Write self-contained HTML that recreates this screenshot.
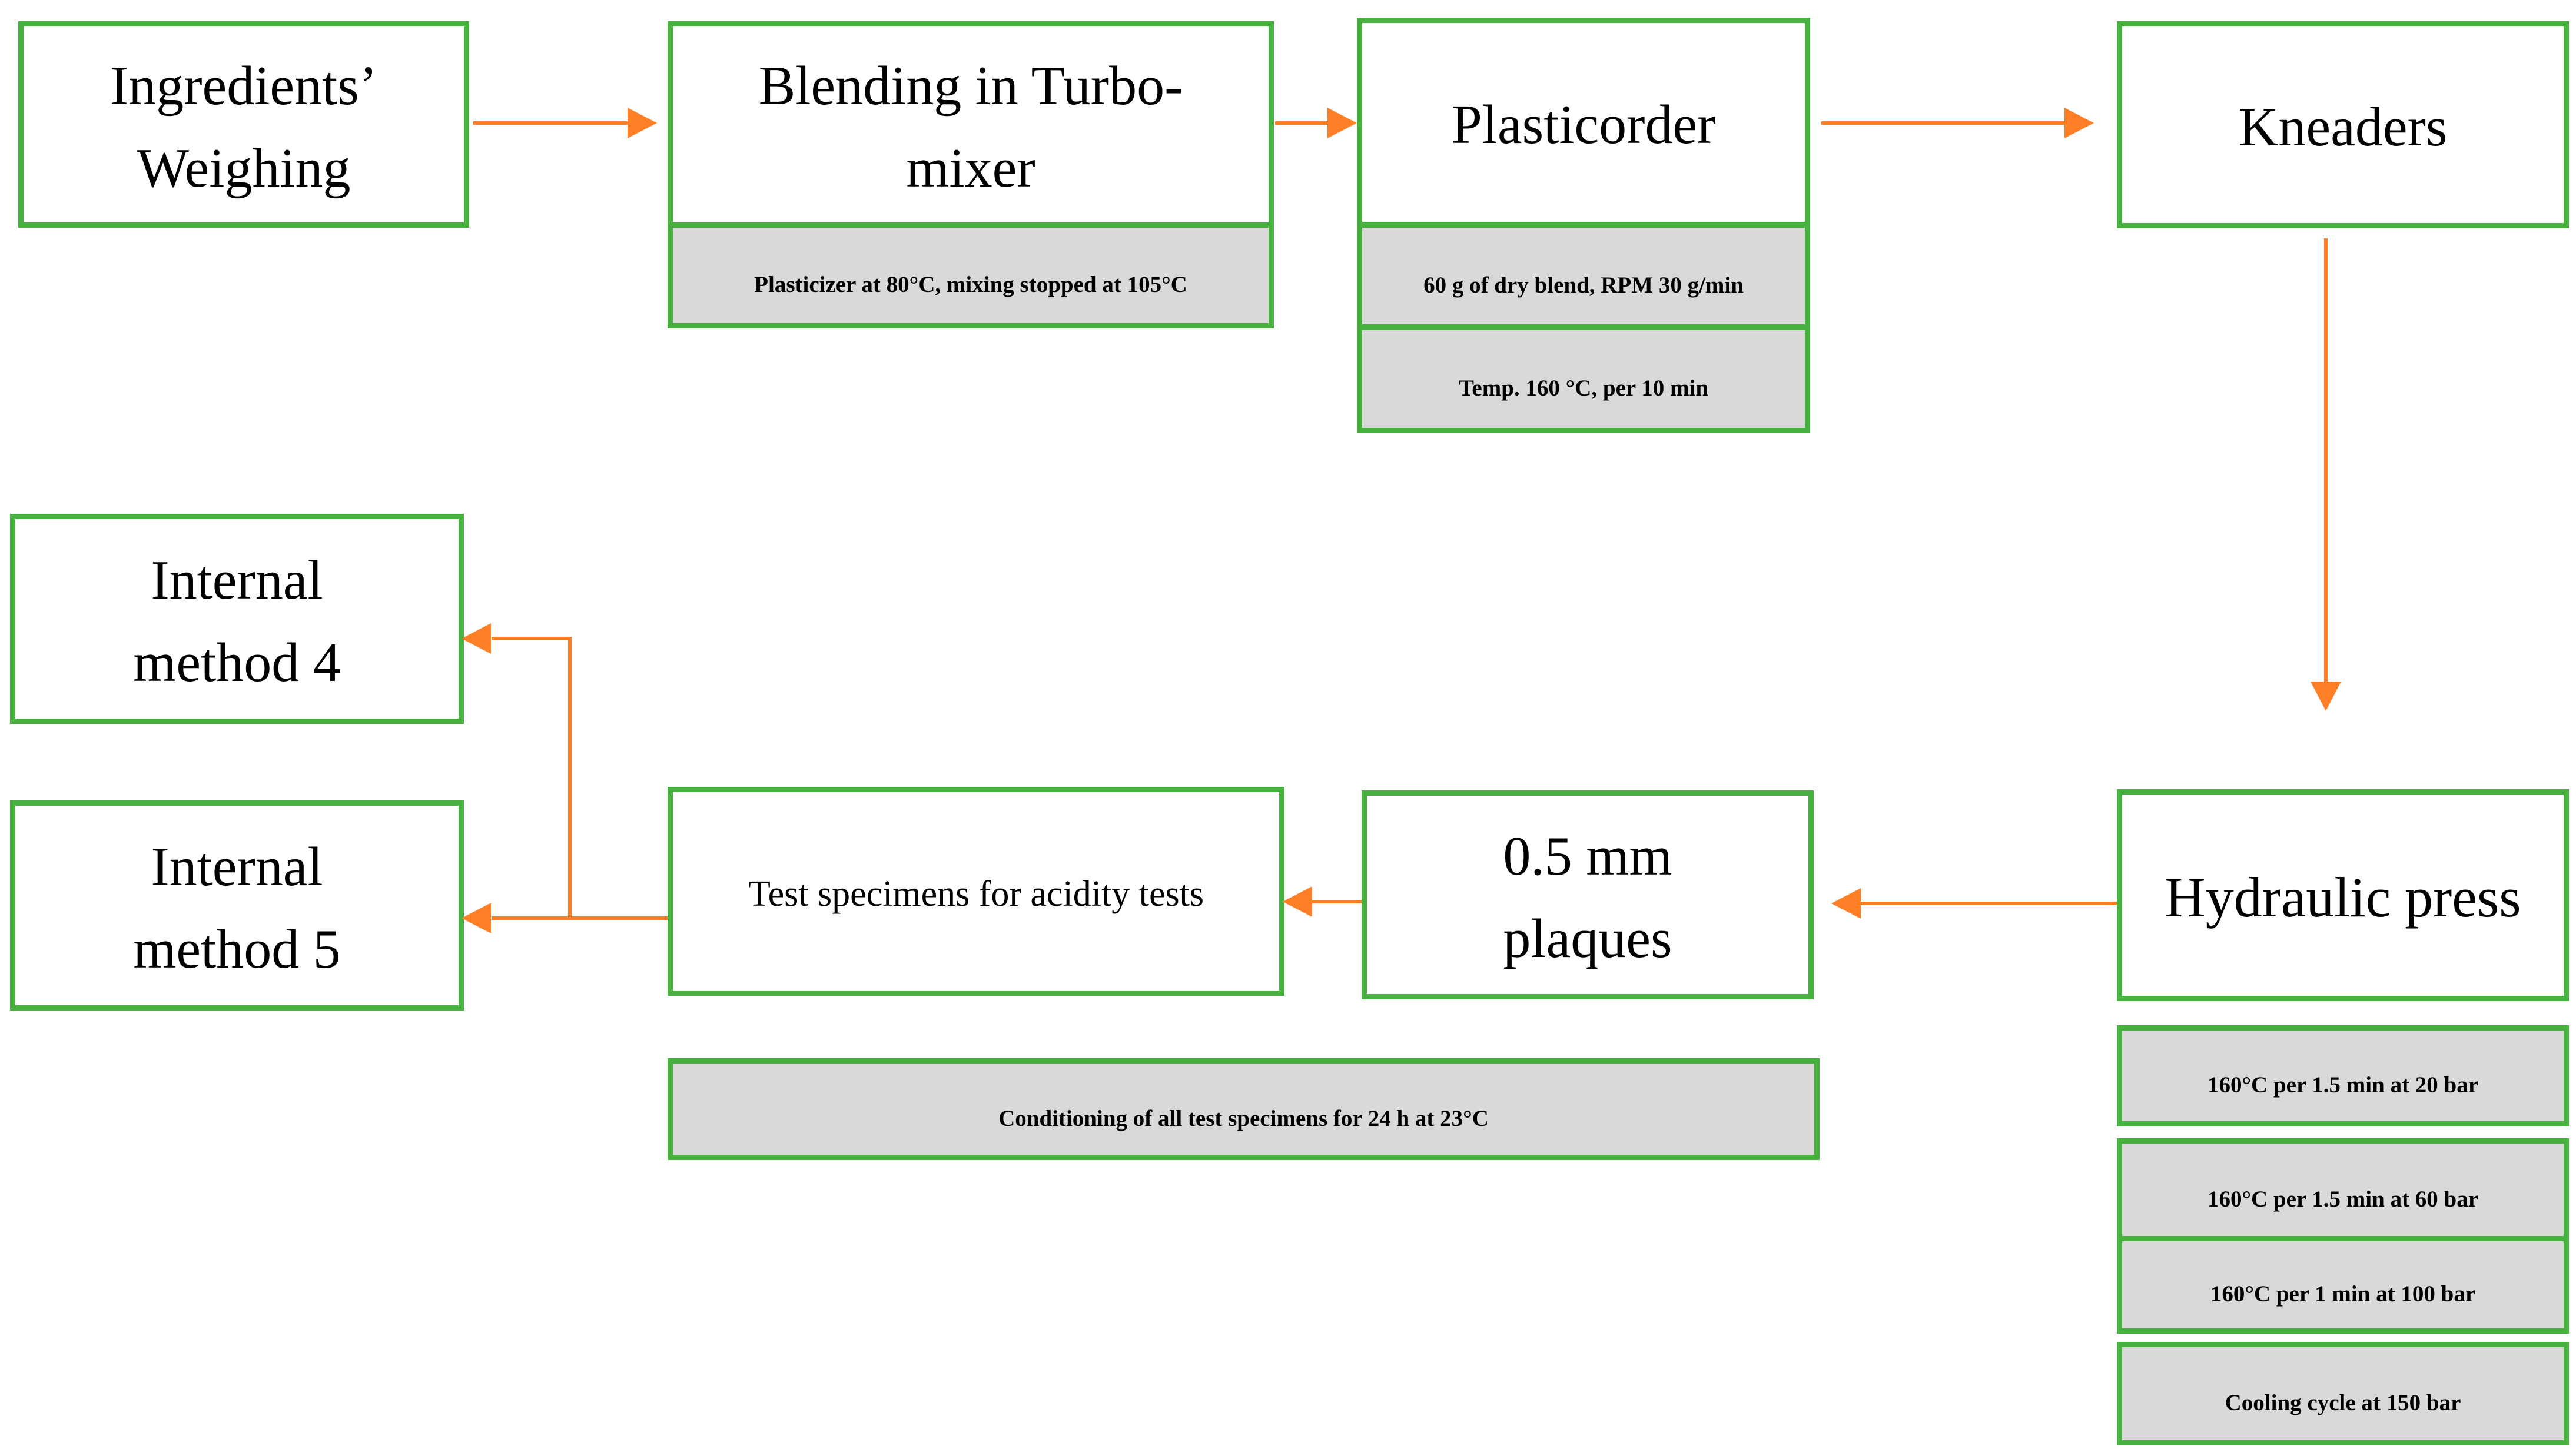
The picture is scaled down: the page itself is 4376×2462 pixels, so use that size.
<!DOCTYPE html>
<html><head><meta charset="utf-8"><style>
body{margin:0;width:4376px;height:2462px;background:#fff;position:relative;overflow:hidden;font-family:"Liberation Serif","Times New Roman",serif;}
.b{position:absolute;box-sizing:border-box;border:9px solid #47B03E;background:#fff;display:flex;align-items:center;justify-content:center;text-align:center;color:#000;font-size:94px;line-height:140px;padding-top:8px;}
.g{background:#D9D9D9;font-size:39px;font-weight:bold;line-height:50px;padding-top:32px;}
svg{position:absolute;left:0;top:0;}
</style></head><body>
<div class="b" style="left:31px;top:36px;width:766px;height:351px;">Ingredients’<br>Weighing</div>
<div class="b" style="left:1134px;top:36px;width:1030px;height:352px;">Blending in Turbo-<br>mixer</div>
<div class="b g" style="left:1134px;top:378px;width:1030px;height:180px;">Plasticizer at 80°C, mixing stopped at 105°C</div>
<div class="b" style="left:2305px;top:30px;width:770px;height:356px;">Plasticorder</div>
<div class="b g" style="left:2305px;top:378px;width:770px;height:182px;">60 g of dry blend, RPM 30 g/min</div>
<div class="b g" style="left:2305px;top:552px;width:770px;height:184px;">Temp. 160 °C, per 10 min</div>
<div class="b" style="left:3596px;top:36px;width:768px;height:352px;">Kneaders</div>
<div class="b" style="left:3596px;top:1341px;width:768px;height:360px;font-size:96px;">Hydraulic press</div>
<div class="b g" style="left:3596px;top:1742px;width:768px;height:172px;">160°C per 1.5 min at 20 bar</div>
<div class="b g" style="left:3596px;top:1934px;width:768px;height:176px;">160°C per 1.5 min at 60 bar</div>
<div class="b g" style="left:3596px;top:2100px;width:768px;height:166px;">160°C per 1 min at 100 bar</div>
<div class="b g" style="left:3596px;top:2280px;width:768px;height:176px;">Cooling cycle at 150 bar</div>
<div class="b" style="left:17px;top:873px;width:771px;height:357px;">Internal<br>method 4</div>
<div class="b" style="left:17px;top:1360px;width:771px;height:357px;">Internal<br>method 5</div>
<div class="b" style="left:1134px;top:1337px;width:1048px;height:355px;font-size:62px;">Test specimens for acidity tests</div>
<div class="b" style="left:2313px;top:1343px;width:768px;height:355px;">0.5 mm<br>plaques</div>
<div class="b g" style="left:1134px;top:1798px;width:1957px;height:173px;">Conditioning of all test specimens for 24 h at 23°C</div>
<svg width="4376" height="2462" viewBox="0 0 4376 2462">
<g stroke="#FF7F27" stroke-width="6" fill="none">
<line x1="804" y1="209" x2="1070" y2="209"/>
<line x1="2166" y1="209" x2="2258" y2="209"/>
<line x1="3094" y1="209" x2="3510" y2="209"/>
<line x1="3951" y1="405" x2="3951" y2="1160"/>
<line x1="3596" y1="1535" x2="3160" y2="1535"/>
<line x1="2313" y1="1532" x2="2228" y2="1532"/>
<line x1="1134" y1="1560" x2="835" y2="1560"/>
<line x1="968" y1="1082" x2="968" y2="1562"/>
<line x1="968" y1="1085" x2="835" y2="1085"/>
</g>
<g fill="#FF7F27">
<polygon points="1116,209 1066,183 1066,235"/>
<polygon points="2305,209 2255,183 2255,235"/>
<polygon points="3557,209 3507,183 3507,235"/>
<polygon points="3951,1208 3925,1158 3977,1158"/>
<polygon points="3111,1535 3161,1509 3161,1561"/>
<polygon points="2179,1532 2229,1506 2229,1558"/>
<polygon points="784,1085 834,1059 834,1111"/>
<polygon points="784,1560 834,1534 834,1586"/>
</g>
</svg>
</body></html>
